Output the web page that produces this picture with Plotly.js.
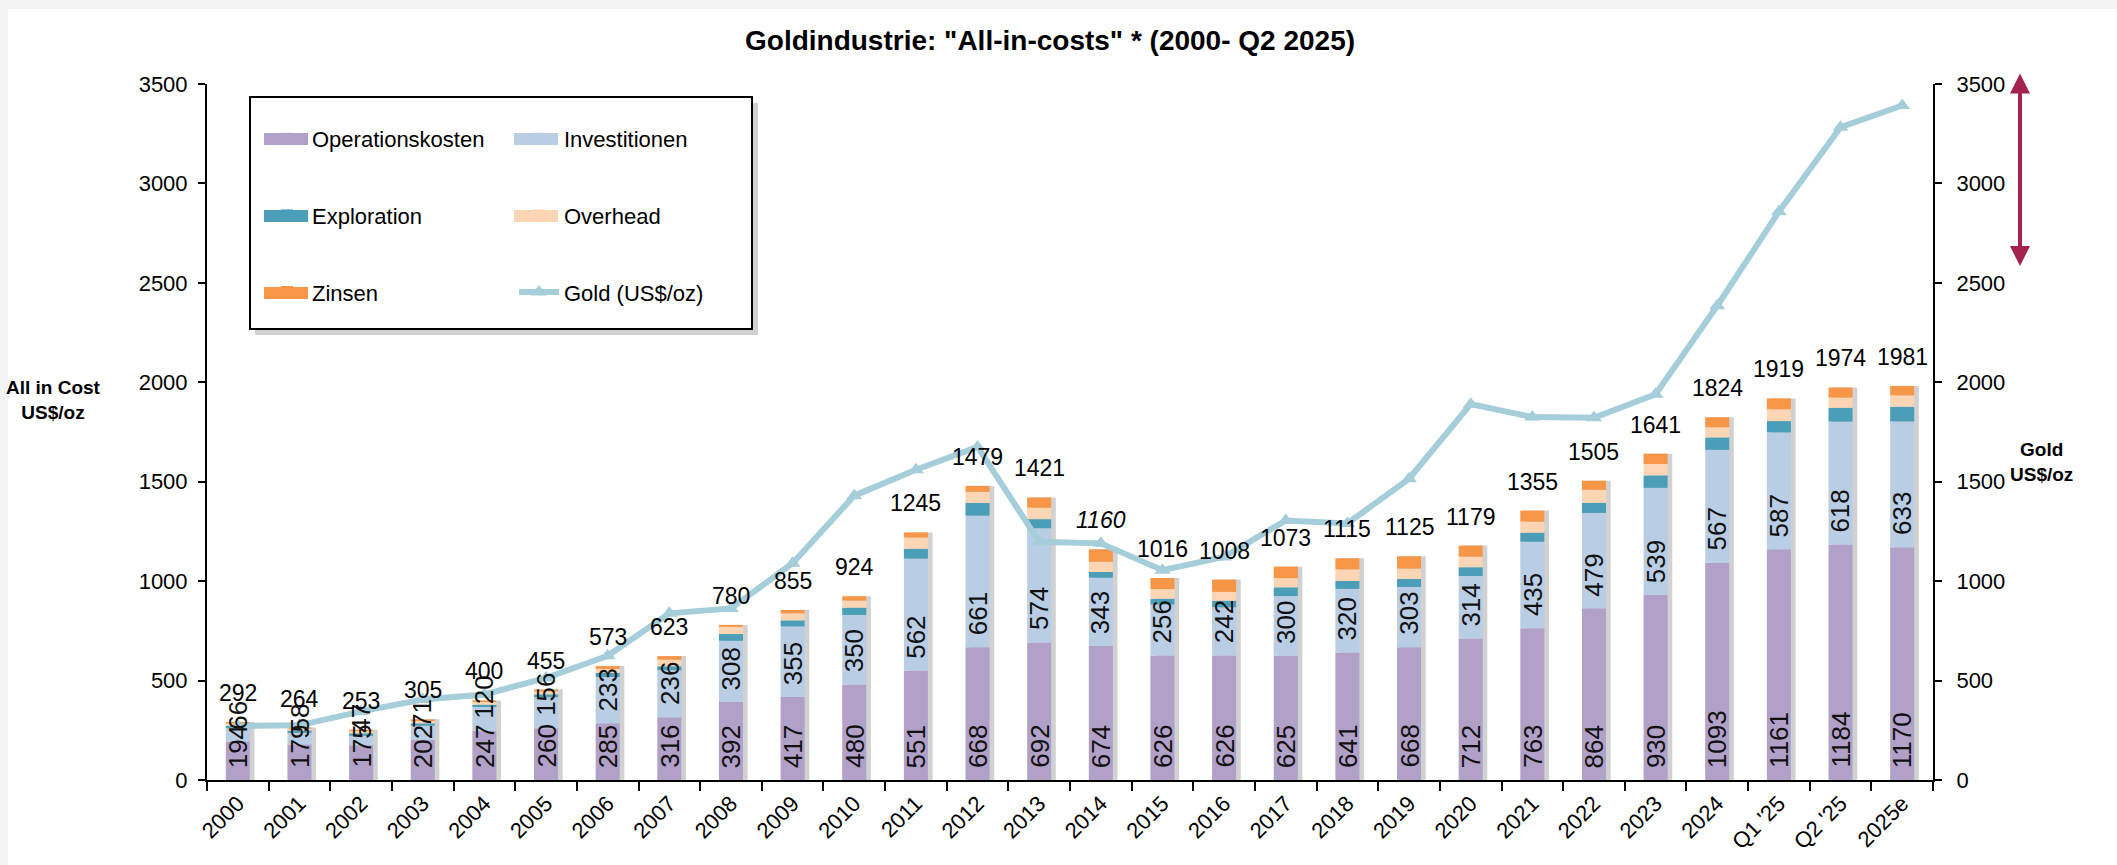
<!DOCTYPE html>
<html>
<head>
<meta charset="utf-8">
<script src="https://cdn.plot.ly/plotly-3.0.1.min.js"></script>
<style>
html,body{margin:0;padding:0;background:#fff;}
#chart{width:2117px;height:865px;}
</style>
</head>
<body>
<div id="chart"></div>
<script>
// ---- data ----
const categories = ['2000','2001','2002','2003','2004','2005','2006','2007','2008','2009','2010','2011','2012','2013','2014','2015','2016','2017','2018','2019','2020','2021','2022','2023','2024',"Q1 '25","Q2 '25",'2025e'];
const operationskosten = [194,179,175,202,247,260,285,316,392,417,480,551,668,692,674,626,626,625,641,668,712,763,864,930,1093,1161,1184,1170];
const investitionen    = [66,58,47,71,120,156,233,236,308,355,350,562,661,574,343,256,242,300,320,303,314,435,479,539,567,587,618,633];
const exploration      = [13,12,13,12,12,15,21,20,34,31,37,50,64,46,29,30,34,44,40,40,44,46,51,63,63,57,70,74];
const overhead         = [11,9,11,12,13,15,20,33,36,35,35,56,56,57,51,48,44,46,58,52,53,55,65,57,51,59,51,57];
const zinsen           = [8,6,7,8,8,9,14,18,10,17,22,26,30,52,63,56,62,58,56,62,56,56,46,52,50,55,51,47];
const totals           = [292,264,253,305,400,455,573,623,780,855,924,1245,1479,1421,1160,1016,1008,1073,1115,1125,1179,1355,1505,1641,1824,1919,1974,1981];
const goldPrice        = [272,275,345,405,430,513,625,838,863,1090,1430,1560,1675,1198,1190,1055,1122,1305,1290,1515,1890,1825,1822,1940,2385,2858,3283,3392];
const italicTotals     = ['2014'];

// ---- styling ----
const FONT = 'Liberation Sans, Arial, sans-serif';
const colors = {
  op:'#B1A0C7', inv:'#B9CDE5', expl:'#4A9EB7', oh:'#FCD5B5', zins:'#F79646', gold:'#A5CDDA'
};
const BW = 0.39;

// cumulative bases computed from the series
const series = [operationskosten, investitionen, exploration, overhead, zinsen];
const bases = [];
let run = categories.map(() => 0);
series.forEach(s => { bases.push(run.slice()); run = run.map((v, i) => v + s[i]); });
const stackTop = run;

const traces = [];
// soft shadow behind each bar
traces.push({
  type:'bar', x:categories, y:stackTop, base:0, width:BW, offset:-BW/2 + 0.075,
  marker:{color:'rgba(90,90,90,0.28)', line:{width:0}}, showlegend:false, hoverinfo:'skip'
});
const specs = [
  {name:'Operationskosten', data:operationskosten, color:colors.op, legend:'legend', g:'a1'},
  {name:'Investitionen',   data:investitionen,   color:colors.inv, legend:'legend2', g:'b1'},
  {name:'Exploration',     data:exploration,     color:colors.expl, legend:'legend', g:'a2'},
  {name:'Overhead',        data:overhead,        color:colors.oh, legend:'legend2', g:'b2'},
  {name:'Zinsen',          data:zinsen,          color:colors.zins, legend:'legend', g:'a3'}
];
specs.forEach((s, k) => {
  traces.push({
    type:'bar', name:s.name, x:categories, y:s.data, base:bases[k], width:BW,
    marker:{color:s.color, line:{width:0}}, legend:s.legend, legendgroup:s.g
  });
});
traces.push({
  type:'scatter', mode:'lines+markers', name:'Gold (US$/oz)', x:categories, y:goldPrice, yaxis:'y2',
  line:{color:colors.gold, width:6}, marker:{symbol:'triangle-up', size:14, color:colors.gold},
  legend:'legend2', legendgroup:'b3'
});

// category annotations use the category serial number on the category axis
const annotations = [];
categories.forEach((c, i) => {
  annotations.push({x:i, y:0, xref:'x', yref:'y', text:String(operationskosten[i]), textangle:-90,
    showarrow:false, xanchor:'center', yanchor:'bottom', yshift:10, font:{family:FONT, size:26, color:'#111'}});
  annotations.push({x:i, y:operationskosten[i], xref:'x', yref:'y', text:String(investitionen[i]), textangle:-90,
    showarrow:false, xanchor:'center', yanchor:'bottom', yshift:10, font:{family:FONT, size:26, color:'#111'}});
  const it = italicTotals.includes(c);
  annotations.push({x:i, y:stackTop[i], xref:'x', yref:'y', text: it ? '<i>' + totals[i] + '</i>' : String(totals[i]),
    showarrow:false, xanchor:'center', yanchor:'bottom', yshift:14, font:{family:FONT, size:23, color:'#000'}});
});
// axis titles (horizontal)
annotations.push({xref:'paper', yref:'paper', x:-0.089, y:0.546, text:'<b>All in Cost<br>US$/oz</b>', showarrow:false,
  xanchor:'center', yanchor:'middle', font:{family:FONT, size:19, color:'#000'}});
annotations.push({xref:'paper', yref:'paper', x:1.0626, y:0.457, text:'<b>Gold<br>US$/oz</b>', showarrow:false,
  xanchor:'center', yanchor:'middle', font:{family:FONT, size:19, color:'#000'}});
// double-headed arrow
annotations.push({xref:'paper', yref:'paper', x:1.0504, y:1.015, ax:0, ay:194, text:'', showarrow:true,
  arrowside:'end+start', arrowhead:2, arrowsize:1, arrowwidth:4, arrowcolor:'#A3224E', standoff:0, startstandoff:0});

const PW = 1726, PH = 696;
const shapes = [
  // white page over a light grey frame
  {type:'rect', xref:'paper', yref:'paper', x0:(8-207)/PW, x1:(2117-207)/PW, y0:(780-865)/PH, y1:(780-9)/PH,
   fillcolor:'#ffffff', line:{width:0}, layer:'below'},
  // legend box shadow and box
  {type:'rect', xref:'paper', yref:'paper', x0:(255-207)/PW, x1:(758-207)/PW, y0:(780-335)/PH, y1:(780-103)/PH,
   fillcolor:'rgba(120,120,120,0.35)', line:{width:0}, layer:'below'},
  {type:'rect', xref:'paper', yref:'paper', x0:(250-207)/PW, x1:(752-207)/PW, y0:(780-329)/PH, y1:(780-97)/PH,
   fillcolor:'#ffffff', line:{color:'#000', width:2}, layer:'below'}
];
// wide legend swatches (Excel style) behind plotly's small legend squares
const swatches = [
  {cx:286, cy:139, color:colors.op}, {cx:536, cy:139, color:colors.inv},
  {cx:286, cy:216, color:colors.expl}, {cx:536, cy:216, color:colors.oh},
  {cx:286, cy:293, color:colors.zins}
];
swatches.forEach(s => shapes.push({type:'rect', xref:'paper', yref:'paper',
  x0:(s.cx-22-207)/PW, x1:(s.cx+22-207)/PW, y0:(780-s.cy-6)/PH, y1:(780-s.cy+6)/PH,
  fillcolor:s.color, line:{width:0}, layer:'above'}));

const axisCommon = {
  showgrid:false, zeroline:false, showline:true, linecolor:'#000', linewidth:2,
  ticks:'outside', ticklen:7, tickwidth:2, tickcolor:'#000',
  tickfont:{family:FONT, size:22, color:'#000'}
};

const layout = {
  width:2117, height:865,
  margin:{l:207, r:184, t:84, b:85, pad:0},
  paper_bgcolor:'#f3f3f3', plot_bgcolor:'rgba(0,0,0,0)',
  barmode:'overlay',
  title:{text:'Goldindustrie: "All-in-costs" * (2000- Q2 2025)', x:0.496, xref:'container', xanchor:'center',
    y:1 - 40/865, yref:'container', yanchor:'middle', font:{family:FONT, size:28, weight:700, color:'#000'}},
  xaxis:Object.assign({}, axisCommon, {type:'category', range:[-0.5, 27.5], tickson:'boundaries', tickangle:-45, ticklen:9}),
  yaxis:Object.assign({}, axisCommon, {range:[0,3500], dtick:500, tick0:0, ticklabelstandoff:6}),
  yaxis2:Object.assign({}, axisCommon, {range:[0,3500], dtick:500, tick0:0, overlaying:'y', side:'right', anchor:'x', ticklabelstandoff:10}),
  legend:{x:(262-207)/PW, y:(780-118)/PH, xanchor:'left', yanchor:'top', bgcolor:'rgba(0,0,0,0)', borderwidth:0,
    traceorder:'grouped', tracegroupgap:45, font:{family:FONT, size:22, color:'#000'}, itemwidth:40},
  legend2:{x:(514-207)/PW, y:(780-118)/PH, xanchor:'left', yanchor:'top', bgcolor:'rgba(0,0,0,0)', borderwidth:0,
    traceorder:'grouped', tracegroupgap:45, font:{family:FONT, size:22, color:'#000'}, itemwidth:40},
  annotations:annotations,
  shapes:shapes,
  showlegend:true
};

Plotly.newPlot('chart', traces, layout, {displayModeBar:false, staticPlot:true});
</script>
</body>
</html>
